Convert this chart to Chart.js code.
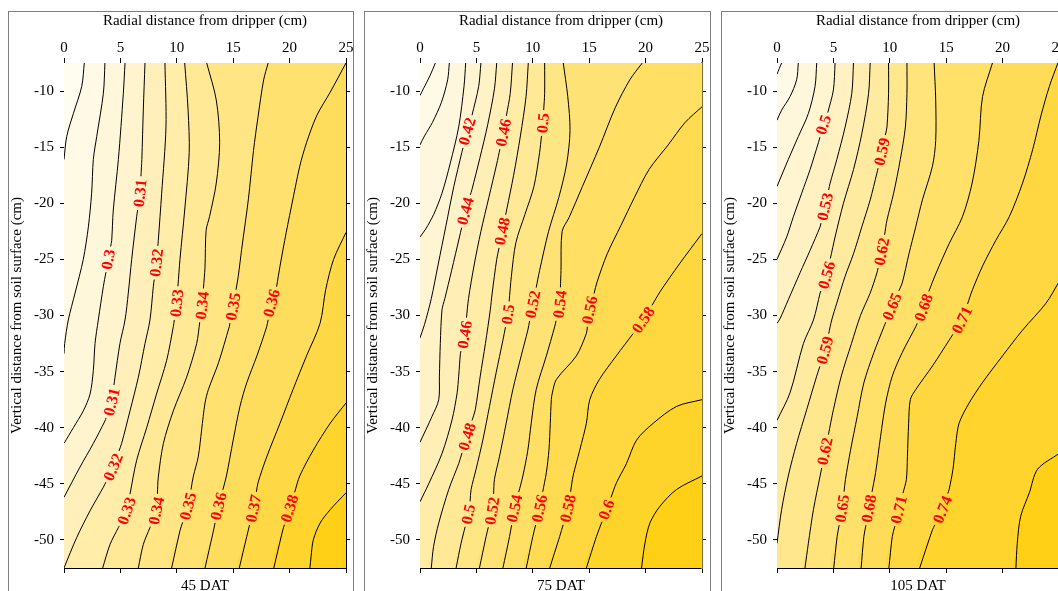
<!DOCTYPE html>
<html>
<head>
<meta charset="utf-8">
<title>Soil moisture contours</title>
<script src="https://cdn.jsdelivr.net/npm/chart.js@4.4.0/dist/chart.umd.min.js"></script>
<style>
  html, body { margin: 0; padding: 0; background: #fff; width: 1058px; height: 591px; overflow: hidden; }
  .frame { position: absolute; top: 11px; height: 640px; border: 1px solid #7f7f7f; box-sizing: border-box; }
  canvas { position: absolute; top: 0; }
</style>
</head>
<body>
<div class="frame" style="left:8px;width:346px"></div>
<div class="frame" style="left:364px;width:347px"></div>
<div class="frame" style="left:721px;width:400px"></div>
<canvas id="dat45" width="356" height="620" style="left:0px"></canvas>
<canvas id="dat75" width="356" height="620" style="left:356px"></canvas>
<canvas id="dat105" width="356" height="620" style="left:713px"></canvas>
<script>
// axis ticks
const radialTicks = [0, 5, 10, 15, 20, 25];
const depthTicks = [-10, -15, -20, -25, -30, -35, -40, -45, -50];
const panelNames = ['45 DAT', '75 DAT', '105 DAT'];

// ---- 45 DAT ----
const levels45 = [0.28, 0.29, 0.30, 0.31, 0.32, 0.33, 0.34, 0.35, 0.36, 0.37, 0.38, 0.39];
const contours45 = [
  [[1.8,-7.5],[1.57,-9.6],[0.83,-12.0],[0.24,-14.05],[0,-16.1]],
  [[3.63,-7.5],[3.49,-10.2],[2.9,-14.05],[2.6,-16.1],[2.45,-19.1],[2.16,-22.1],[1.71,-25.0],[0.98,-28.0],[0.38,-30.4],[0.06,-32.5],[0,-33.4]],
  [[5.41,-7.5],[5.26,-10.2],[4.82,-16.1],[4.37,-20.6],[4.23,-23.3],[3.93,-25.0],[3.49,-27.4],[3.04,-30.4],[2.75,-32.5],[2.6,-34.9],[2.31,-37.0],[1.71,-38.5],[0.83,-40.0],[0,-41.4]],
  [[7.18,-7.5],[7.03,-11.7],[6.9,-16.1],[6.74,-19.1],[6.44,-21.2],[6.0,-25.0],[5.7,-28.0],[5.41,-30.4],[4.96,-32.5],[4.52,-35.5],[4.23,-37.7],[3.63,-39.4],[2.6,-41.4],[1.42,-43.5],[0,-46.2]],
  [[8.95,-7.5],[9.04,-13.2],[8.66,-19.1],[8.36,-23.3],[8.2,-25.3],[7.92,-27.4],[7.62,-30.4],[7.18,-32.5],[6.59,-35.5],[5.85,-38.5],[5.11,-41.4],[4.37,-43.5],[3.49,-45.3],[2.31,-47.4],[1.12,-49.8],[0,-52.5]],
  [[10.7,-7.5],[11.0,-11.7],[11.1,-15.5],[10.7,-20.6],[10.28,-25.0],[10.1,-27.4],[10.0,-28.9],[9.69,-31.0],[9.1,-34.0],[8.2,-37.0],[7.33,-40.0],[6.44,-42.9],[5.56,-47.4],[4.82,-48.9],[4.08,-50.4],[3.43,-52.5]],
  [[12.65,-7.5],[13.5,-10.8],[13.8,-14.6],[13.5,-18.2],[12.9,-21.2],[12.6,-22.4],[12.5,-25.7],[12.25,-29.1],[11.76,-32.5],[10.87,-35.5],[9.69,-38.5],[8.81,-41.4],[8.36,-44.4],[8.2,-47.4],[7.62,-48.9],[7.03,-50.4],[6.59,-52.5]],
  [[18.1,-7.5],[17.7,-9.0],[17.2,-12.3],[16.8,-15.3],[16.35,-19.6],[15.75,-24.1],[15.45,-26.5],[15.0,-29.2],[14.65,-31.0],[13.7,-34.2],[12.8,-36.6],[12.5,-37.8],[12.2,-40.2],[11.9,-42.6],[11.47,-44.3],[11.0,-47.0],[10.3,-49.1],[9.54,-52.5]],
  [[25,-7.5],[23.6,-10.1],[22.4,-12.2],[21.5,-14.6],[20.9,-16.7],[20.3,-19.6],[19.7,-22.6],[19.15,-25.6],[18.85,-27.4],[18.4,-28.9],[17.97,-31.0],[17.1,-33.6],[16.2,-36.0],[15.6,-38.1],[15.0,-41.1],[14.4,-44.3],[13.7,-47.0],[13.2,-49.4],[12.5,-52.5]],
  [[25,-22.6],[23.9,-25.0],[23.2,-27.7],[22.7,-30.7],[21.5,-33.6],[20.3,-36.6],[19.15,-39.6],[17.97,-42.6],[17.2,-44.9],[16.8,-47.2],[16.2,-49.7],[15.54,-52.5]],
  [[25,-37.8],[23.6,-39.6],[22.1,-42.0],[20.9,-44.3],[20.0,-47.2],[19.4,-49.1],[18.6,-52.5]],
  [[25,-45.8],[23.6,-47.3],[22.7,-48.5],[22.1,-50.0],[21.9,-51.5],[21.8,-52.5]]
];
// [level, depth] where each in-line label sits
const labels45 = [
  [0.30,-25.0],[0.31,-19.1],[0.32,-25.3],[0.33,-28.9],[0.34,-29.1],[0.35,-29.2],[0.36,-28.9],
  [0.31,-37.7],[0.32,-43.5],[0.33,-47.4],[0.34,-47.4],[0.35,-47.0],[0.36,-47.0],[0.37,-47.2],[0.38,-47.2]
];

// ---- 75 DAT ----
const levels75 = [0.36, 0.38, 0.40, 0.42, 0.44, 0.46, 0.48, 0.50, 0.52, 0.54, 0.56, 0.58, 0.60, 0.62];
const contours75 = [
  [[1.36,-7.5],[0.9,-8.6],[0.3,-9.8],[0,-10.4]],
  [[2.6,-7.5],[2.45,-9.0],[1.9,-11.0],[1.1,-12.8],[0.4,-14.0],[0,-14.8]],
  [[4.05,-7.5],[3.9,-9.6],[3.43,-13.2],[2.69,-16.4],[1.95,-19.1],[1.21,-21.0],[0.5,-22.3],[0,-23.0]],
  [[5.4,-7.5],[5.2,-9.6],[4.6,-12.2],[4.18,-13.6],[3.7,-15.5],[3.0,-18.5],[2.3,-22.0],[1.6,-25.5],[1.0,-28.5],[0.4,-30.8],[0,-32.0]],
  [[6.8,-7.5],[6.6,-9.8],[6.0,-13.0],[5.3,-16.0],[4.6,-18.8],[4.03,-20.7],[3.5,-23.0],[2.8,-26.0],[2.2,-28.5],[1.95,-29.5],[1.8,-32.5],[1.72,-35.4],[1.66,-37.5],[1.06,-39.0],[0,-41.3]],
  [[8.2,-7.5],[8.0,-10.2],[7.4,-13.7],[6.8,-16.5],[6.1,-19.5],[5.4,-22.5],[4.8,-25.5],[4.3,-28.5],[3.96,-31.7],[3.58,-33.4],[3.43,-35.4],[3.29,-36.9],[2.84,-39.3],[1.95,-42.3],[0.77,-45.0],[0,-46.6]],
  [[9.6,-7.5],[9.4,-10.5],[8.9,-14.0],[8.3,-17.5],[7.7,-20.5],[7.3,-22.5],[6.8,-25.0],[6.4,-28.0],[6.23,-29.5],[5.8,-32.5],[5.34,-35.4],[4.9,-38.4],[4.18,-40.8],[3.43,-43.2],[2.55,-45.5],[1.66,-48.5],[1.2,-50.6],[1.0,-52.5]],
  [[11.05,-7.5],[11.05,-10.2],[10.9,-12.85],[10.6,-15.5],[10.1,-18.5],[9.3,-21.0],[8.5,-23.5],[8.1,-26.5],[7.8,-29.9],[7.35,-32.2],[6.75,-35.1],[6.16,-38.1],[5.57,-41.1],[4.97,-43.7],[4.53,-45.5],[4.38,-47.3],[3.64,-50.3],[3.2,-52.5]],
  [[12.7,-7.5],[13.1,-10.5],[13.3,-13.5],[13.0,-16.5],[12.3,-19.5],[11.4,-22.5],[10.6,-26.0],[10.0,-29.0],[9.56,-31.3],[8.97,-33.6],[8.23,-36.6],[7.64,-39.6],[7.04,-42.6],[6.6,-44.6],[6.45,-47.2],[5.86,-49.7],[5.27,-52.5]],
  [[19.7,-7.5],[18.6,-9.0],[17.3,-11.5],[15.9,-15.0],[14.4,-18.5],[13.2,-21.3],[12.6,-22.5],[12.5,-26.0],[12.4,-29.0],[11.94,-31.0],[11.2,-33.6],[10.3,-36.6],[9.86,-39.6],[9.56,-42.0],[9.12,-44.3],[8.38,-47.2],[7.94,-49.7],[7.35,-52.5]],
  [[25,-11.4],[23.5,-12.8],[22.0,-14.8],[20.3,-17.0],[19.0,-19.5],[17.8,-22.0],[16.6,-24.5],[15.7,-27.0],[15.05,-29.5],[14.75,-31.6],[13.86,-33.6],[12.09,-35.7],[11.73,-36.9],[11.64,-37.5],[11.55,-39.6],[11.43,-42.0],[11.2,-44.0],[10.6,-47.2],[10.0,-49.7],[9.42,-52.5]],
  [[25,-22.7],[23.0,-25.4],[21.27,-27.9],[19.8,-30.4],[18.9,-31.6],[17.4,-33.6],[15.9,-35.7],[15.05,-37.5],[14.75,-39.6],[14.16,-42.0],[13.57,-44.3],[13.12,-47.2],[12.38,-49.7],[11.5,-52.5]],
  [[25,-37.5],[22.75,-38.1],[20.68,-39.6],[19.2,-41.1],[18.3,-43.2],[17.42,-44.9],[16.53,-47.3],[15.64,-49.7],[14.75,-52.5]],
  [[25,-44.3],[22.75,-45.5],[21.27,-47.0],[20.38,-48.5],[19.94,-50.3],[19.64,-52.5]]
];
const labels75 = [
  [0.42,-13.6],[0.46,-13.7],[0.50,-12.85],[0.44,-20.7],[0.48,-22.5],
  [0.46,-31.7],[0.50,-29.9],[0.52,-29.0],[0.54,-29.0],[0.56,-29.5],[0.58,-30.4],
  [0.48,-40.8],[0.50,-47.7],[0.52,-47.4],[0.54,-47.2],[0.56,-47.2],[0.58,-47.2],[0.60,-47.3]
];

// ---- 105 DAT ----
const levels105 = [0.41, 0.44, 0.47, 0.50, 0.53, 0.56, 0.59, 0.62, 0.65, 0.68, 0.71, 0.74, 0.77];
const contours105 = [
  [[0.41,-7.5],[0.2,-8.0],[0,-8.5]],
  [[1.89,-7.5],[1.74,-9.0],[1.15,-10.5],[0.41,-11.7],[0,-12.6]],
  [[3.52,-7.5],[3.37,-9.6],[2.78,-12.0],[1.89,-14.05],[1.0,-16.1],[0,-18.5]],
  [[5.15,-7.5],[5.0,-9.9],[4.41,-12.3],[4.12,-13.0],[3.67,-14.6],[2.93,-17.0],[2.19,-19.1],[1.45,-21.2],[0.86,-23.0],[0,-25.0]],
  [[6.78,-7.5],[6.63,-10.2],[6.04,-13.2],[5.3,-16.1],[4.71,-18.2],[4.26,-20.3],[3.82,-22.1],[2.93,-24.2],[2.04,-26.2],[1.0,-28.6],[0.26,-30.3],[0,-30.7]],
  [[8.26,-7.5],[8.12,-10.2],[7.52,-13.8],[6.78,-17.0],[5.89,-20.0],[5.15,-23.0],[4.41,-26.4],[3.82,-28.0],[3.23,-30.4],[2.34,-32.5],[1.15,-36.9],[0,-39.35]],
  [[9.89,-7.5],[9.89,-10.2],[9.75,-13.2],[9.3,-15.4],[8.86,-17.3],[8.26,-19.7],[7.52,-22.1],[6.78,-24.5],[6.04,-26.5],[5.3,-28.9],[4.85,-30.4],[4.26,-33.1],[3.52,-35.4],[2.63,-38.4],[1.74,-41.4],[1.0,-44.3],[0.41,-47.3],[0,-50.3]],
  [[11.52,-7.5],[11.52,-10.2],[11.38,-13.2],[10.93,-16.1],[10.34,-19.1],[9.75,-21.5],[9.3,-24.3],[8.86,-26.2],[8.26,-28.0],[7.4,-30.0],[6.6,-32.5],[5.7,-35.4],[5.0,-38.4],[4.26,-42.1],[3.82,-44.3],[3.23,-47.3],[2.78,-50.3],[2.48,-52.5]],
  [[13.93,-7.5],[14.07,-10.8],[14.07,-14.4],[13.78,-16.7],[12.89,-19.7],[12.3,-22.1],[11.7,-24.5],[11.1,-27.1],[10.2,-29.2],[9.48,-31.0],[8.59,-33.3],[7.7,-36.0],[7.11,-39.0],[6.52,-42.0],[6.07,-44.6],[5.77,-47.2],[5.33,-49.7],[5.03,-52.5]],
  [[19.1,-7.5],[18.22,-10.5],[17.9,-14.4],[17.3,-18.2],[16.44,-21.2],[15.26,-23.6],[14.07,-26.3],[13.48,-27.8],[13.0,-29.3],[12.3,-31.0],[11.1,-33.3],[10.22,-35.4],[9.63,-37.8],[9.18,-40.8],[8.74,-44.0],[8.15,-47.2],[7.7,-49.7],[7.46,-52.5]],
  [[24.9,-7.5],[24.14,-9.6],[23.4,-12.2],[22.67,-15.2],[21.77,-18.2],[20.59,-21.2],[19.4,-23.3],[18.22,-25.6],[17.33,-27.7],[16.4,-30.4],[15.26,-32.2],[13.78,-34.5],[12.3,-36.6],[11.82,-37.5],[11.67,-39.6],[11.56,-42.6],[11.47,-44.6],[10.81,-47.3],[10.22,-49.7],[9.92,-52.5]],
  [[25,-27.0],[23.85,-28.9],[21.77,-31.3],[19.99,-33.6],[18.2,-36.0],[17.03,-37.8],[16.14,-39.6],[15.85,-41.4],[15.6,-43.7],[15.26,-45.5],[14.67,-47.3],[13.78,-49.1],[12.65,-52.5]],
  [[25,-42.3],[23.1,-43.7],[22.37,-45.8],[21.6,-47.9],[21.3,-50.3],[21.18,-52.5]]
];
const labels105 = [
  [0.50,-13.0],[0.59,-15.4],[0.53,-20.3],[0.62,-24.3],[0.56,-26.4],
  [0.65,-29.2],[0.68,-29.3],[0.71,-30.4],[0.59,-33.1],[0.62,-42.1],
  [0.65,-47.2],[0.68,-47.2],[0.71,-47.3],[0.74,-47.3]
];

// plot window (cm)
const TOP = -7.5, BOTTOM = -52.5, RIGHT = 25;
const PX_PER_CM = 11.25;
const serif = '"Liberation Serif", "Times New Roman", serif';
const LABEL_FONT = 'bold 16px ' + serif;

// light cream to gold
const bandStops = [[255, 252, 240], [255, 244, 206], [255, 233, 150], [255, 221, 92], [255, 208, 22]];
function bandColor(i, n) {
  const t = (i / (n - 1)) * (bandStops.length - 1);
  const k = Math.min(Math.floor(t), bandStops.length - 2);
  const f = t - k;
  const c = bandStops[k].map((v, j) => Math.round(v + (bandStops[k + 1][j] - v) * f));
  return `rgb(${c[0]},${c[1]},${c[2]})`;
}

const measure = document.createElement('canvas').getContext('2d');
measure.font = LABEL_FONT;

function arcLengths(pts) {
  const cum = [0];
  for (let i = 1; i < pts.length; i++) {
    cum.push(cum[i - 1] + Math.hypot(pts[i][0] - pts[i - 1][0], pts[i][1] - pts[i - 1][1]));
  }
  return cum;
}

function pointAt(pts, cum, s) {
  s = Math.max(0, Math.min(cum[cum.length - 1], s));
  for (let i = 0; i < pts.length - 1; i++) {
    if (s <= cum[i + 1]) {
      const f = (s - cum[i]) / ((cum[i + 1] - cum[i]) || 1);
      return [pts[i][0] + (pts[i + 1][0] - pts[i][0]) * f, pts[i][1] + (pts[i + 1][1] - pts[i][1]) * f];
    }
  }
  return pts[pts.length - 1];
}

function arcAtDepth(pts, cum, depth) {
  for (let i = 0; i < pts.length - 1; i++) {
    const y0 = pts[i][1], y1 = pts[i + 1][1];
    if (y0 !== y1 && (depth - y0) * (depth - y1) <= 0) {
      return cum[i] + (depth - y0) / (y1 - y0) * (cum[i + 1] - cum[i]);
    }
  }
  return null;
}

// split a contour into drawable pieces, leaving room for its labels
function pieces(pts, cum, cuts) {
  let ranges = [[0, cum[cum.length - 1]]];
  cuts.forEach(([c0, c1]) => {
    ranges = ranges.flatMap(([a, b]) => {
      if (c1 <= a || c0 >= b) return [[a, b]];
      const out = [];
      if (c0 > a) out.push([a, c0]);
      if (c1 < b) out.push([c1, b]);
      return out;
    });
  });
  return ranges.map(([a, b]) => {
    const p = [pointAt(pts, cum, a)];
    pts.forEach((q, i) => { if (cum[i] > a && cum[i] < b) p.push(q); });
    p.push(pointAt(pts, cum, b));
    return p;
  });
}

// position along the frame, counter-clockwise on screen starting at top-left
function perim(p) {
  const d = [Math.abs(p[0]), Math.abs(p[1] - BOTTOM), Math.abs(RIGHT - p[0]), Math.abs(TOP - p[1])];
  const e = d.indexOf(Math.min(...d));
  if (e === 0) return TOP - p[1];
  if (e === 1) return 45 + p[0];
  if (e === 2) return 70 + (p[1] - BOTTOM);
  return 115 + (RIGHT - p[0]);
}
const corners = [[0, [0, TOP]], [45, [0, BOTTOM]], [70, [RIGHT, BOTTOM]], [115, [RIGHT, TOP]]];

// closed outline of the area where the value exceeds the contour level
function regionAbove(pts) {
  const pe = perim(pts[pts.length - 1]);
  let ps = perim(pts[0]);
  if (ps <= pe) ps += 140;
  const walk = [];
  [...corners, ...corners.map(([c, q]) => [c + 140, q])]
    .filter(([c]) => c > pe + 1e-6 && c < ps - 1e-6)
    .sort((a, b) => a[0] - b[0])
    .forEach(([, q]) => walk.push(q));
  return pts.concat(walk);
}

const toXY = p => ({x: p[0], y: p[1]});

function axis(position, size, showTicks, title, extra) {
  const horizontal = position === 'top' || position === 'bottom';
  return Object.assign({
    type: 'linear',
    position,
    min: horizontal ? 0 : BOTTOM,
    max: horizontal ? RIGHT : TOP,
    afterBuildTicks: s => { s.ticks = (horizontal ? radialTicks : depthTicks).map(v => ({value: v})); },
    afterFit: s => { if (horizontal) s.height = size; else s.width = size; },
    grid: {drawOnChartArea: false, drawTicks: true, tickLength: horizontal ? 5 : 4, color: '#000', lineWidth: 1},
    border: {display: true, color: '#000', width: 1},
    ticks: {
      display: showTicks, color: '#000', font: {family: serif, size: 15},
      padding: horizontal ? 1 : 6, autoSkip: false, maxRotation: 0,
      callback: v => String(v)
    },
    title: title
  }, extra || {});
}

function buildPanel(canvasId, name, levels, contours, labelSpots, rightBorder) {
  const n = levels.length + 1;
  const datasets = [];
  const items = [];

  contours.forEach((pts, k) => {
    const cum = arcLengths(pts);
    const cuts = [];
    labelSpots.filter(l => Math.abs(l[0] - levels[k]) < 1e-6).forEach(([lv, depth]) => {
      const s0 = arcAtDepth(pts, cum, depth);
      if (s0 === null) return;
      const text = String(+lv.toFixed(2));
      const h = (measure.measureText(text).width / 2 + 3) / PX_PER_CM;
      const c = pointAt(pts, cum, s0);
      const up = pointAt(pts, cum, s0 - h);
      const lo = pointAt(pts, cum, s0 + h);
      cuts.push([s0 - h, s0 + h]);
      items.push({text, x: c[0], y: c[1], x1: lo[0], y1: lo[1], x2: up[0], y2: up[1]});
    });

    datasets.push({
      data: regionAbove(pts).map(toXY),
      fill: 'shape',
      backgroundColor: bandColor(k + 1, n),
      borderColor: 'rgba(0,0,0,0)',
      borderWidth: 0,
      order: 100 - k
    });
    pieces(pts, cum, cuts).forEach(piece => {
      datasets.push({data: piece.map(toXY), borderColor: '#000', borderWidth: 1, fill: false, order: 0});
    });
  });

  const contourText = {
    id: 'contourText',
    beforeDatasetsDraw(chart) {
      const {ctx, chartArea: a} = chart;
      ctx.save();
      ctx.fillStyle = bandColor(0, n);
      ctx.fillRect(a.left, a.top, a.right - a.left, a.bottom - a.top);
      ctx.restore();
    },
    afterDatasetsDraw(chart) {
      const {ctx} = chart;
      const sx = chart.scales.x, sy = chart.scales.y;
      ctx.save();
      ctx.font = LABEL_FONT;
      ctx.fillStyle = '#ff0000';
      ctx.textAlign = 'center';
      ctx.textBaseline = 'middle';
      items.forEach(it => {
        const dx = sx.getPixelForValue(it.x2) - sx.getPixelForValue(it.x1);
        const dy = sy.getPixelForValue(it.y2) - sy.getPixelForValue(it.y1);
        ctx.save();
        ctx.translate(sx.getPixelForValue(it.x), sy.getPixelForValue(it.y));
        ctx.rotate(Math.atan2(dy, dx));
        ctx.fillText(it.text, 0, 1);
        ctx.restore();
      });
      ctx.restore();
    }
  };

  const titleFont = {family: serif, size: 15};
  return new Chart(document.getElementById(canvasId), {
    type: 'line',
    data: {datasets},
    options: {
      responsive: false,
      animation: false,
      events: [],
      layout: {padding: 0},
      elements: {point: {radius: 0}, line: {tension: 0.3}},
      plugins: {legend: {display: false}, tooltip: {enabled: false}},
      scales: {
        x: axis('top', 63, true, {display: true, text: 'Radial distance from dripper (cm)', color: '#000', font: titleFont, padding: {top: 12, bottom: 0}}),
        xb: axis('bottom', 52, false, {display: true, text: name, color: '#000', font: titleFont, padding: {top: 0, bottom: 25}}),
        y: axis('left', 64, true, {display: true, text: 'Vertical distance from soil surface (cm)', color: '#000', font: titleFont, padding: {top: 8, bottom: 0}}),
        yr: axis('right', 10, false, {display: false}, rightBorder ? {border: rightBorder} : null)
      }
    },
    plugins: [contourText]
  });
}

buildPanel('dat45', panelNames[0], levels45, contours45, labels45);
buildPanel('dat75', panelNames[1], levels75, contours75, labels75, {display: true, color: '#857236', width: 2});
buildPanel('dat105', panelNames[2], levels105, contours105, labels105);
</script>
</body>
</html>
